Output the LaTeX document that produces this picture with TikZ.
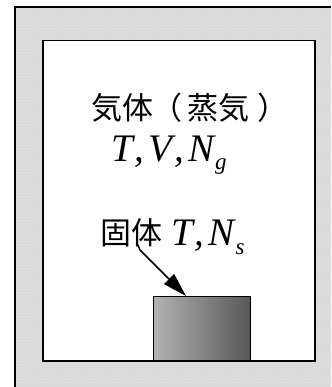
\documentclass[tikz,border=0pt]{standalone}
\usepackage{fontspec}
\newfontfamily\cjk{Noto Sans CJK JP}
\newfontfamily\tms{Liberation Serif}
\usetikzlibrary{patterns,arrows.meta}
\tikzset{
  cjklabel/.style={inner sep=0pt, anchor=base west, font=\cjk\fontsize{31}{31}\selectfont},
  mathlabel/.style={inner sep=0pt, anchor=base west, font=\tms\itshape\fontsize{39}{39}\selectfont},
  frameline/.style={line width=2pt, black},
}
\newcommand{\subx}[1]{\hspace{1pt}\raisebox{-9pt}{\fontsize{23}{23}\selectfont #1}}
\newcommand{\cm}{\hspace{2pt},\hspace{4pt}}
\begin{document}
\begin{tikzpicture}[x={(1pt,0)}, y={(0,-1pt)}]
\useasboundingbox (0,0) rectangle (331,387);
\fill[white] (0,0) rectangle (331,387);
% outer hatched wall
\fill[gray!30] (15,7) rectangle (331,387);
\fill[pattern=crosshatch dots, pattern color=white!80!gray] (15,7) rectangle (331,387);
\draw[frameline] (15,387) -- (15,7) -- (331,7);
% inner chamber
\fill[gray!60] (44,42) rectangle (316,362);
\node[draw=black, line width=1.5pt, fill=white, minimum width=272pt, minimum height=320pt, inner sep=0pt, anchor=north west] (chamber) at (42,40) {};
% solid block
\node[draw=black, line width=1.3pt, left color=black!30, right color=black!66, minimum width=97pt, minimum height=64pt, inner sep=0pt, anchor=north west] (solid) at (153,296) {};
% labels
\node[cjklabel] (gas) at (91,120) {気体\makebox[27pt][c]{（}\hspace{7pt}蒸気\hspace{8pt}）};
\node[mathlabel] (gasvars) at (111,161) {T\cm V\cm N\subx{g}};
\node[cjklabel] (solidlbl) at (100,244) {固体};
\node[mathlabel] (solidvars) at (171,245) {T\cm N\subx{s}};
\coordinate (a1) at (137,243);
\coordinate (a2) at (140,250);
\draw[line width=1.5pt, -{Triangle[length=24pt,width=14pt]}] (a1) -- (a2) -- (solid.north west -| 186,296);
\end{tikzpicture}
\end{document}
